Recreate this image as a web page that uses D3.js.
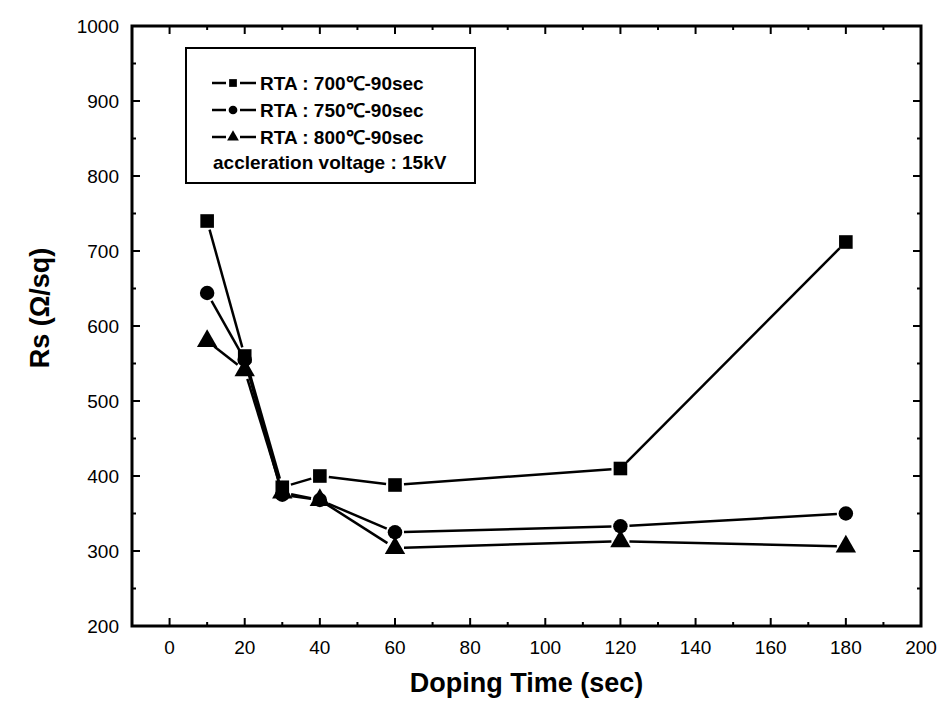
<!DOCTYPE html>
<html>
<head>
<meta charset="utf-8">
<script src="https://cdn.jsdelivr.net/npm/d3@7"></script>
<style>
    body { margin: 0; background: #fff; }
    svg { display: block; font-family: "Liberation Sans", Arial, sans-serif; }
</style>
</head>
<body>
<div id="container"></div>
<script>
    "use strict";

    var times = [10, 20, 30, 40, 60, 120, 180];
    var rta700 = [740, 560, 385, 400, 388, 410, 712];
    var rta750 = [644, 555, 375, 368, 325, 333, 350];
    var rta800 = [580, 541, 378, 368, 304, 313, 306];
    var seriesNames = ["RTA : 700\u2103-90sec", "RTA : 750\u2103-90sec", "RTA : 800\u2103-90sec"];
    var noteText = "accleration voltage : 15kV";
    var xTicks = [0, 20, 40, 60, 80, 100, 120, 140, 160, 180, 200];
    var yTicks = [200, 300, 400, 500, 600, 700, 800, 900, 1000];

    var margin = { top: 26, right: 31, bottom: 84, left: 132 };
    var width = 952 - margin.left - margin.right,
        height = 710 - margin.top - margin.bottom;

    var x = d3.scaleLinear().domain([-10, 200]).range([0, width]),
        y = d3.scaleLinear().domain([200, 1000]).range([height, 0]);

    var svg = d3.select("#container").append("svg")
        .attr("width", 952)
        .attr("height", 710);

    var graph = svg.append("g")
        .attr("transform", "translate(" + margin.left + "," + margin.top + ")");

    // ticks, all pointing inward
    var xMinor = d3.range(-10, 201, 10).filter(function(d) { return xTicks.indexOf(d) < 0; });
    var yMinor = d3.range(250, 1000, 100);

    function tickMarks(sel, vals, len, horizontal) {
        vals.forEach(function(v) {
            if (horizontal) {
                sel.append("line").attr("x1", x(v)).attr("x2", x(v)).attr("y1", height).attr("y2", height - len);
                sel.append("line").attr("x1", x(v)).attr("x2", x(v)).attr("y1", 0).attr("y2", len);
            } else {
                sel.append("line").attr("y1", y(v)).attr("y2", y(v)).attr("x1", 0).attr("x2", len);
                sel.append("line").attr("y1", y(v)).attr("y2", y(v)).attr("x1", width).attr("x2", width - len);
            }
        });
    }

    var ticks = graph.append("g").attr("stroke", "#000").attr("stroke-width", 2);
    tickMarks(ticks, xTicks, 8, true);
    tickMarks(ticks, xMinor, 4, true);
    tickMarks(ticks, yTicks, 8, false);
    tickMarks(ticks, yMinor, 4, false);

    graph.append("rect")
        .attr("width", width)
        .attr("height", height)
        .attr("fill", "none")
        .attr("stroke", "#000")
        .attr("stroke-width", 3);

    graph.selectAll(".xlabel")
        .data(xTicks)
        .enter().append("text")
            .attr("class", "xlabel")
            .attr("x", function(d) { return x(d); })
            .attr("y", height + 28)
            .attr("text-anchor", "middle")
            .attr("font-size", 19)
            .text(function(d) { return d; });

    graph.selectAll(".ylabel")
        .data(yTicks)
        .enter().append("text")
            .attr("class", "ylabel")
            .attr("x", -13)
            .attr("y", function(d) { return y(d); })
            .attr("dy", "0.35em")
            .attr("text-anchor", "end")
            .attr("font-size", 19)
            .text(function(d) { return d; });

    svg.append("text")
        .attr("x", margin.left + x(95))
        .attr("y", 692)
        .attr("text-anchor", "middle")
        .attr("font-size", 27)
        .attr("font-weight", "bold")
        .text("Doping Time (sec)");

    svg.append("text")
        .attr("transform", "translate(49,308) rotate(-90)")
        .attr("text-anchor", "middle")
        .attr("font-size", 27)
        .attr("font-weight", "bold")
        .text("Rs (\u03A9/sq)");

    // markers
    var shapes = [d3.symbolSquare, d3.symbolCircle, d3.symbolTriangle];
    var sizes = [185, 165, 180];
    var series = [rta700, rta750, rta800];
    var gap = 9;

    series.forEach(function(vals, i) {
        var pts = times.map(function(t, j) { return [x(t), y(vals[j])]; });
        var g = graph.append("g");

        // segments stop short of the markers
        for (var j = 0; j < pts.length - 1; j++) {
            var a = pts[j], b = pts[j + 1];
            var dx = b[0] - a[0], dy = b[1] - a[1];
            var len = Math.sqrt(dx * dx + dy * dy);
            if (len <= 2 * gap) continue;
            var ux = dx / len, uy = dy / len;
            g.append("line")
                .attr("x1", a[0] + ux * gap).attr("y1", a[1] + uy * gap)
                .attr("x2", b[0] - ux * gap).attr("y2", b[1] - uy * gap)
                .attr("stroke", "#000")
                .attr("stroke-width", 2.5);
        }

        g.selectAll("path")
            .data(pts)
            .enter().append("path")
                .attr("transform", function(d) { return "translate(" + d[0] + "," + d[1] + ")"; })
                .attr("d", d3.symbol().type(shapes[i]).size(sizes[i]))
                .attr("fill", "#000");
    });

    // legend
    var legend = svg.append("g");
    legend.append("rect")
        .attr("x", 186)
        .attr("y", 48)
        .attr("width", 289)
        .attr("height", 135)
        .attr("fill", "#fff")
        .attr("stroke", "#000")
        .attr("stroke-width", 2);

    seriesNames.forEach(function(name, i) {
        var ly = 83 + i * 27;
        legend.append("line")
            .attr("x1", 212).attr("x2", 226).attr("y1", ly).attr("y2", ly)
            .attr("stroke", "#000").attr("stroke-width", 2.5);
        legend.append("line")
            .attr("x1", 240).attr("x2", 256).attr("y1", ly).attr("y2", ly)
            .attr("stroke", "#000").attr("stroke-width", 2.5);
        legend.append("path")
            .attr("transform", "translate(233," + ly + ")")
            .attr("d", d3.symbol().type(shapes[i]).size(60))
            .attr("fill", "#000");
        legend.append("text")
            .attr("x", 260)
            .attr("y", ly)
            .attr("dy", "0.35em")
            .attr("font-size", 19)
            .attr("font-weight", "bold")
            .text(name);
    });

    legend.append("text")
        .attr("x", 213)
        .attr("y", 162)
        .attr("dy", "0.35em")
        .attr("font-size", 19)
        .attr("font-weight", "bold")
        .text(noteText);
</script>
</body>
</html>
